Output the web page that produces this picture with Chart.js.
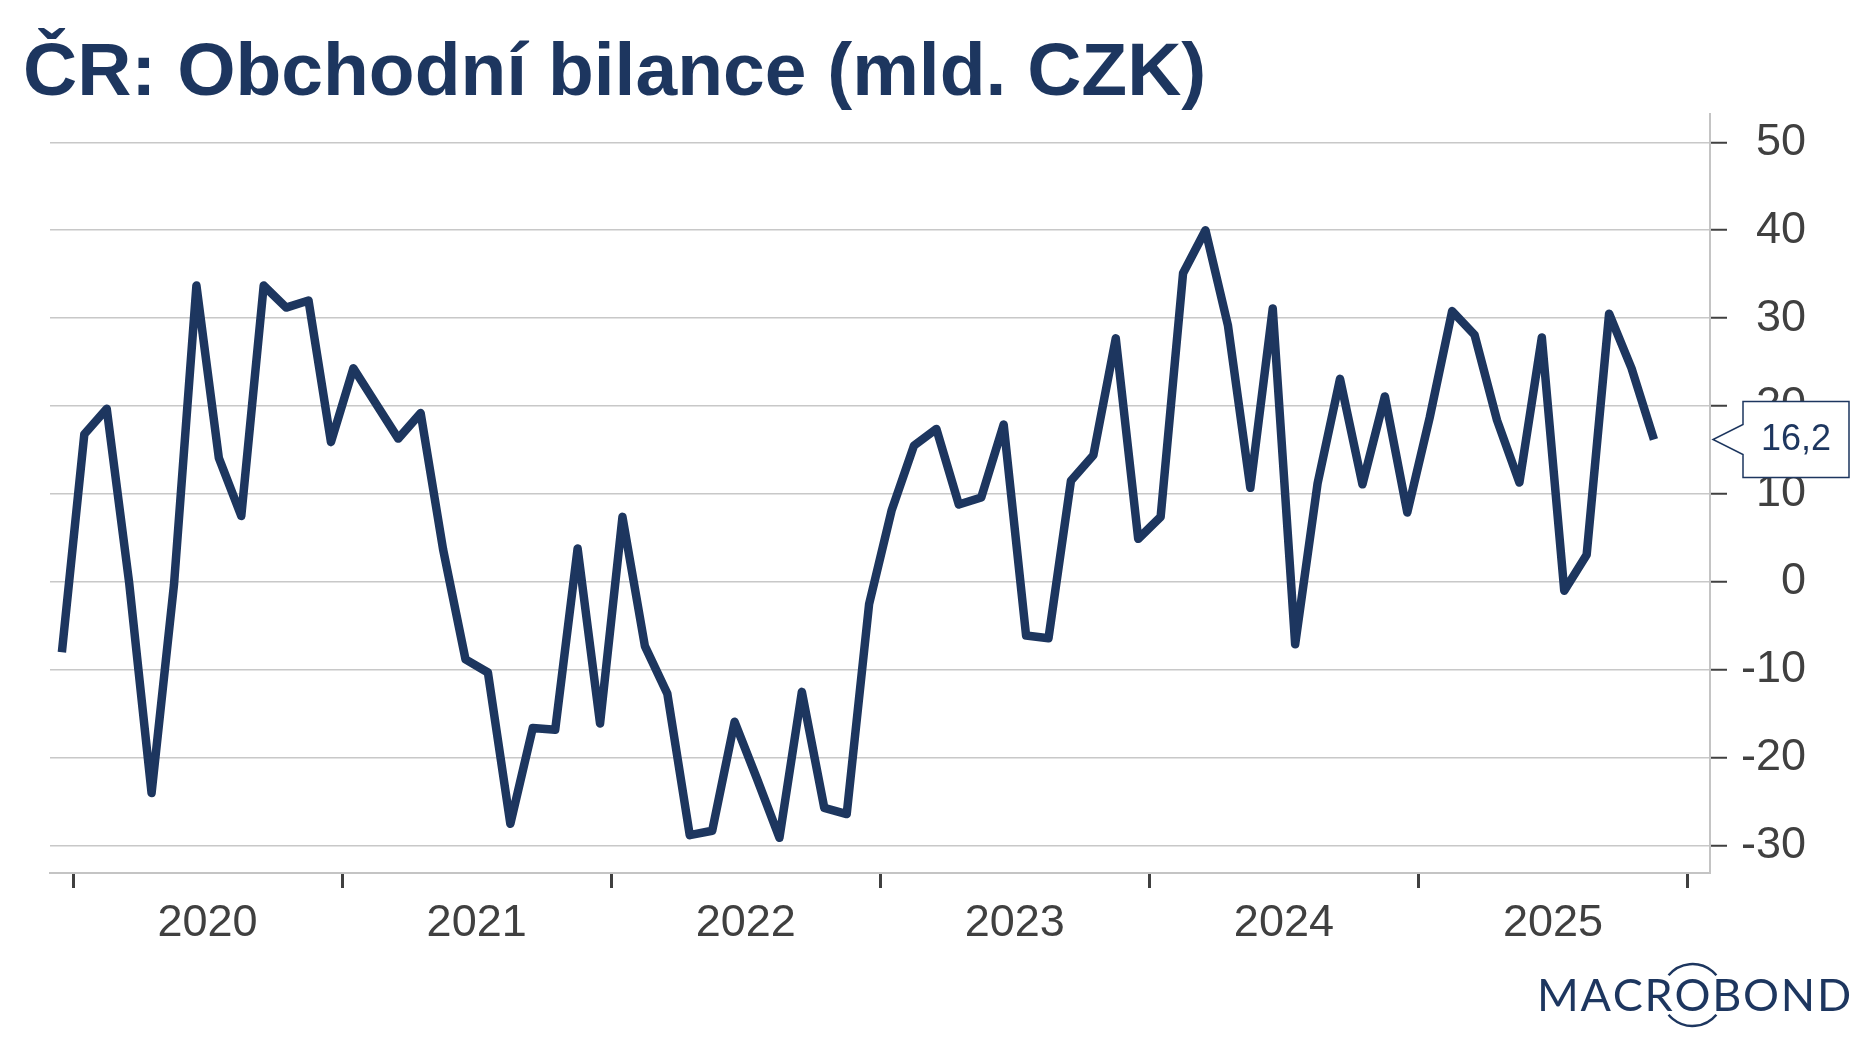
<!DOCTYPE html>
<html>
<head>
<meta charset="utf-8">
<script src="https://cdn.jsdelivr.net/npm/chart.js@4.4.1/dist/chart.umd.min.js"></script>
<style>
html,body{margin:0;padding:0;background:#fff;}
#wrap{position:relative;width:1875px;height:1053px;overflow:hidden;background:#fff;}
#title{position:absolute;left:23px;top:32px;margin:0;font:bold 75px "Liberation Sans",Arial,sans-serif;line-height:75px;color:#1d365f;white-space:nowrap;}
#chart{position:absolute;left:0;top:0;}
</style>
</head>
<body>
<div id="wrap">
<canvas id="chart" width="1875" height="1053"></canvas>
<h1 id="title">ČR: Obchodní bilance (mld. CZK)</h1>
</div>
<script>
// ---- data ----
const months = [
 '2019-12',
 '2020-01','2020-02','2020-03','2020-04','2020-05','2020-06','2020-07','2020-08','2020-09','2020-10','2020-11','2020-12',
 '2021-01','2021-02','2021-03','2021-04','2021-05','2021-06','2021-07','2021-08','2021-09','2021-10','2021-11','2021-12',
 '2022-01','2022-02','2022-03','2022-04','2022-05','2022-06','2022-07','2022-08','2022-09','2022-10','2022-11','2022-12',
 '2023-01','2023-02','2023-03','2023-04','2023-05','2023-06','2023-07','2023-08','2023-09','2023-10','2023-11','2023-12',
 '2024-01','2024-02','2024-03','2024-04','2024-05','2024-06','2024-07','2024-08','2024-09','2024-10','2024-11','2024-12',
 '2025-01','2025-02','2025-03','2025-04','2025-05','2025-06','2025-07','2025-08','2025-09','2025-10','2025-11'
];
const balance = [
 -8.0,
 16.8, 19.7, -0.1, -24.0, -0.3, 33.7, 14.1, 7.5, 33.7, 31.2, 32.0, 15.9,
 24.3, 20.3, 16.3, 19.2, 3.7, -8.8, -10.3, -27.5, -16.6, -16.8, 3.8, -16.1,
 7.4, -7.3, -12.7, -28.8, -28.3, -15.9, -22.4, -29.1, -12.5, -25.7, -26.4, -2.5,
 8.1, 15.5, 17.4, 8.8, 9.6, 17.9, -6.1, -6.4, 11.5, 14.4, 27.7, 4.9,
 7.4, 35.1, 40.0, 29.2, 10.7, 31.1, -7.1, 11.2, 23.1, 11.1, 21.1, 7.9,
 18.7, 30.8, 28.1, 18.4, 11.3, 27.8, -1.0, 3.1, 30.5, 24.3, 16.2
];
const yTickValues = [-30, -20, -10, 0, 10, 20, 30, 40, 50];
const yearLabels = ['2020', '2021', '2022', '2023', '2024', '2025'];

// ---- helpers ----
const NAVY = '#1d365f';
const TXT = '#404040';
const FONT = '"Liberation Sans", Arial, sans-serif';
function monthPos(label) {
  const parts = label.split('-').map(Number);
  return (parts[0] - 2020) * 12 + (parts[1] - 1) + 0.5; // mid-month, 0 = 1 Jan 2020
}
const points = months.map((m, i) => ({ x: monthPos(m), y: balance[i] }));
const yearBounds = yearLabels.map((y, i) => i * 12).concat([yearLabels.length * 12]);

const calloutPlugin = {
  id: 'callout',
  afterDraw(chart) {
    const ctx = chart.ctx;
    const ys = chart.scales.y;
    const last = balance[balance.length - 1];
    const py = ys.getPixelForValue(last);
    const axisX = ys.left;
    const tipX = axisX + 3, boxL = axisX + 33, boxR = boxL + 106, boxT = py - 38, boxB = py + 38, ah = 15;
    ctx.save();
    ctx.beginPath();
    ctx.moveTo(boxL, boxT); ctx.lineTo(boxR, boxT); ctx.lineTo(boxR, boxB); ctx.lineTo(boxL, boxB);
    ctx.lineTo(boxL, py + ah); ctx.lineTo(tipX, py); ctx.lineTo(boxL, py - ah); ctx.closePath();
    ctx.fillStyle = '#ffffff'; ctx.fill();
    ctx.lineWidth = 1.5; ctx.strokeStyle = NAVY; ctx.stroke();
    ctx.fillStyle = NAVY;
    ctx.font = '36px ' + FONT;
    ctx.textAlign = 'center'; ctx.textBaseline = 'middle';
    ctx.fillText(last.toFixed(1).replace('.', ','), (boxL + boxR) / 2, py + 1);
    ctx.restore();

    // logo
    ctx.save();
    const word = 'MACROBOND';
    ctx.font = '400 45px Lato, "Open Sans", sans-serif';
    ctx.fillStyle = NAVY;
    ctx.textBaseline = 'alphabetic';
    ctx.textAlign = 'left';
    const targetL = 1537, targetR = 1850, base = 1011;
    const w0 = ctx.measureText(word).width;
    const sp = (targetR - targetL - w0) / (word.length - 1);
    let x = targetL, oCenter = 0;
    for (let i = 0; i < word.length; i++) {
      const cw = ctx.measureText(word[i]).width;
      if (i === 4) oCenter = x + cw / 2;
      ctx.fillText(word[i], x, base);
      x += cw + sp;
    }
    ctx.strokeStyle = NAVY; ctx.lineWidth = 2.5;
    ctx.beginPath(); ctx.arc(oCenter, base - 16, 31, Math.PI * 1.22, Math.PI * 1.78); ctx.stroke();
    ctx.beginPath(); ctx.arc(oCenter, base - 16, 31, Math.PI * 0.22, Math.PI * 0.78); ctx.stroke();
    ctx.restore();
  }
};

new Chart(document.getElementById('chart'), {
  type: 'line',
  data: {
    datasets: [{
      data: points,
      borderColor: NAVY,
      borderWidth: 8.5,
      pointRadius: 0,
      tension: 0,
      fill: false,
      borderJoinStyle: 'round',
      borderCapStyle: 'butt'
    }]
  },
  options: {
    responsive: false,
    animation: false,
    devicePixelRatio: 1,
    layout: { padding: { left: 50, right: 69, top: 113.6, bottom: 103 } },
    plugins: { legend: { display: false }, tooltip: { enabled: false }, title: { display: false } },
    scales: {
      x: {
        type: 'linear',
        position: 'bottom',
        min: -1.03,
        max: 73.0,
        afterBuildTicks(scale) { scale.ticks = yearBounds.map(v => ({ value: v })); },
        afterFit(scale) { scale.height = 77; scale.paddingLeft = 0; scale.paddingRight = 0; },
        ticks: {
          autoSkip: false, maxRotation: 0, minRotation: 0,
          labelOffset: 134.5,
          padding: 9,
          color: TXT,
          font: { family: FONT, size: 45 },
          callback(v) { const i = Math.round(v / 12); return yearLabels[i] !== undefined ? yearLabels[i] : ''; }
        },
        grid: { drawOnChartArea: false, drawTicks: true, tickLength: 15, tickWidth: 3, tickColor: TXT },
        border: { display: true, color: '#c4c4c4', width: 2 }
      },
      y: {
        type: 'linear',
        position: 'right',
        min: -33.1,
        max: 53.26,
        afterBuildTicks(scale) { scale.ticks = yTickValues.map(v => ({ value: v })); },
        afterFit(scale) { scale.width = 96; scale.paddingTop = 0; scale.paddingBottom = 0; },
        ticks: {
          crossAlign: 'far',
          padding: 12,
          color: TXT,
          font: { family: FONT, size: 45 },
          callback(v) { return String(v); }
        },
        grid: { color: '#c8c8c8', lineWidth: 1.5, drawTicks: true, tickLength: 17, tickWidth: 2, tickColor: TXT },
        border: { display: true, color: '#c4c4c4', width: 2 }
      }
    }
  },
  plugins: [calloutPlugin]
});
</script>
</body>
</html>
